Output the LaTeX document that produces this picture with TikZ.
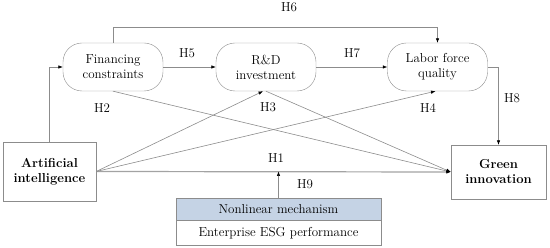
\documentclass[tikz,border=0pt]{standalone}
\usetikzlibrary{arrows.meta}
\definecolor{lgray}{RGB}{140,140,140}
\definecolor{hblue}{RGB}{197,211,229}
\begin{document}
\begin{tikzpicture}[x=1pt,y=-1pt,
  font=\fontsize{13}{15}\selectfont,
  rbox/.style={draw=lgray, rounded corners=19pt, minimum width=100pt, minimum height=48pt, align=center, inner sep=0pt},
  sbox/.style={draw=lgray, align=center, inner sep=0pt},
  conn/.style={draw=lgray, line width=0.6pt, -{Latex[length=4.5pt,width=3.5pt,fill=black,color=black]}},
  lbl/.style={inner sep=0pt}]
\useasboundingbox (0,0) rectangle (550,248);
\node[rbox] (fc) at (113,67) {Financing\\constraints};
\node[rbox] (rd) at (266,67) {R\&D\\investment};
\node[rbox] (lf) at (437.5,67) {Labor force\\quality};
\node[sbox, minimum width=93pt, minimum height=59pt] (ai) at (49.5,171.5) {\textbf{Artificial}\\\textbf{intelligence}};
\node[sbox, minimum width=95pt, minimum height=54pt] (gi) at (498.5,172) {\textbf{Green}\\\textbf{innovation}};
\node[sbox, fill=hblue, minimum width=205pt, minimum height=22pt] (nm) at (278.5,209) {Nonlinear mechanism};
\node[sbox, minimum width=205pt, minimum height=25pt, anchor=north] (esg) at (nm.south) {Enterprise ESG performance};
\coordinate (h6c) at (113,27);
\draw[conn] (fc.north) -- (h6c) -| (lf.north);
\draw[conn] (fc.east) -- (rd.west);
\draw[conn] (rd.east) -- (lf.west);
\draw[conn] (ai.north) |- (fc.west);
\draw[conn] (lf.east) -| (gi.north);
\draw[conn, line width=1.2pt, draw=lgray!80] (ai.east) -- (gi.west);
\draw[conn] (ai.east) -- ([xshift=-3pt]rd.south);
\draw[conn] (ai.east) -- ([xshift=-2pt]lf.south);
\draw[conn] (fc.south) -- (gi.west);
\draw[conn] (rd.south) -- (gi.west);
\draw[conn] (nm.north) -- (nm.north |- ai.east);
\node[lbl] (h6) at (289,7) {H6};
\node[lbl] (h5) at (187,53) {H5};
\node[lbl] (h7) at (352,53) {H7};
\node[lbl] (h2) at (102,108) {H2};
\node[lbl] (h3) at (268,107) {H3};
\node[lbl] (h4) at (428,108) {H4};
\node[lbl] (h8) at (512,98) {H8};
\node[lbl] (h1) at (276,158) {H1};
\node[lbl] (h9) at (305,184) {H9};
\end{tikzpicture}
\end{document}
